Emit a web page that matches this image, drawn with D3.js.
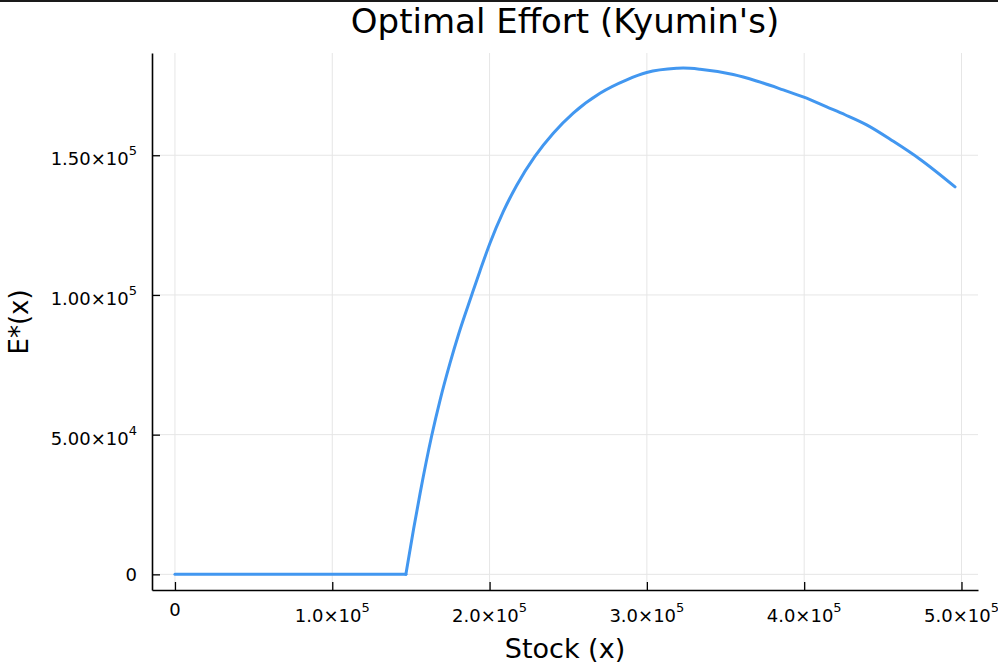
<!DOCTYPE html>
<html>
<head>
<meta charset="utf-8">
<script src="https://cdn.jsdelivr.net/npm/d3@7"></script>
<style>
  html, body { margin: 0; padding: 0; background: #fff; }
  svg { display: block; font-family: "DejaVu Sans", sans-serif; }
</style>
</head>
<body>
<svg id="chart" width="998" height="666"></svg>
<script>
// ---- data (stock, optimal effort) ----
const stock = [0, 146800, 151700, 155800, 163200, 168500, 174800, 180500, 188600, 193900,
               200300, 208700, 217200, 228800, 240500, 253200, 270200, 287200, 299900,
               318900, 323100, 333800, 354900, 369700, 386700, 399800, 414300, 426000,
               439700, 456700, 473600, 495900];
const effort = [0, 0, 16200, 28900, 49600, 62300, 75500, 86300, 99900, 108600,
                118600, 129800, 139200, 149600, 157900, 165100, 172200, 177000, 179600,
                181100, 181200, 180800, 178900, 176600, 173400, 170800, 167300, 164500,
                160900, 155000, 148600, 138700];
const xTicks = [0, 100000, 200000, 300000, 400000, 500000];
const xTickMant = ["0", "1.0", "2.0", "3.0", "4.0", "5.0"];
const xTickExp = ["", "5", "5", "5", "5", "5"];
const yTicks = [0, 50000, 100000, 150000];
const yTickMant = ["0", "5.00", "1.00", "1.50"];
const yTickExp = ["", "4", "5", "5"];
const titleText = "Optimal Effort (Kyumin's)";
const xLabel = "Stock (x)";
const yLabel = "E*(x)";

const svg = d3.select("#chart");
const W = 998, H = 666;
const m = { left: 152, right: 978, top: 53, bottom: 590 };

// top dark strip
svg.append("rect").attr("x", 0).attr("y", 0).attr("width", W).attr("height", 2).attr("fill", "#1a1a1a");

const x = d3.scaleLinear().domain([-14600, 510500]).range([m.left, m.right]);
const y = d3.scaleLinear().domain([-5600, 186600]).range([m.bottom, m.top]);

// grid
const grid = svg.append("g");
grid.selectAll(".vg").data(xTicks).enter().append("line")
  .attr("x1", d => x(d)).attr("x2", d => x(d))
  .attr("y1", m.top).attr("y2", m.bottom)
  .attr("stroke", "#e6e6e6").attr("stroke-width", 1);
grid.selectAll(".hg").data(yTicks).enter().append("line")
  .attr("x1", m.left).attr("x2", m.right)
  .attr("y1", d => y(d)).attr("y2", d => y(d))
  .attr("stroke", "#e6e6e6").attr("stroke-width", 1);

// axes
const xAxis = svg.append("g").attr("transform", `translate(0,${m.bottom})`)
  .call(d3.axisBottom(x).tickValues(xTicks).tickSize(-8).tickSizeOuter(0).tickFormat(""));
const yAxis = svg.append("g").attr("transform", `translate(${m.left},0)`)
  .call(d3.axisLeft(y).tickValues(yTicks).tickSize(-8).tickSizeOuter(0).tickFormat(""));
[xAxis, yAxis].forEach(a => {
  a.select(".domain").attr("stroke", "#000").attr("stroke-width", 1.6);
  a.selectAll(".tick line").attr("stroke", "#000").attr("stroke-width", 1.3);
});

// x tick labels
xTicks.forEach((v, i) => {
  const t = svg.append("text").attr("x", x(v))
    .attr("text-anchor", "middle").attr("font-size", 18).attr("fill", "#000");
  if (xTickExp[i]) {
    t.attr("y", 622);
    t.append("tspan").text(xTickMant[i] + "×10");
    t.append("tspan").attr("dy", -10).attr("font-size", 13).text(xTickExp[i]);
  } else {
    t.attr("y", 616).text(xTickMant[i]);
  }
});
// y tick labels
yTicks.forEach((v, i) => {
  const t = svg.append("text").attr("x", 137)
    .attr("text-anchor", "end").attr("font-size", 18).attr("fill", "#000");
  if (yTickExp[i]) {
    t.attr("y", y(v) + 10);
    t.append("tspan").text(yTickMant[i] + "×10");
    t.append("tspan").attr("dy", -10).attr("font-size", 13).text(yTickExp[i]);
  } else {
    t.attr("y", y(v) + 7).text(yTickMant[i]);
  }
});

// line: flat part straight, rising/falling part smooth
const pts = stock.map((s, i) => [s, effort[i]]);
const kink = 1;
const flatLine = d3.line().x(d => x(d[0])).y(d => y(d[1])).curve(d3.curveLinear);
const smoothLine = d3.line().x(d => x(d[0])).y(d => y(d[1])).curve(d3.curveMonotoneX);
const style = p => p.attr("fill", "none").attr("stroke", "#4297f0").attr("stroke-width", 3)
  .attr("stroke-linejoin", "round").attr("stroke-linecap", "round");
style(svg.append("path").datum(pts.slice(0, kink + 1)).attr("d", flatLine));
style(svg.append("path").datum(pts.slice(kink)).attr("d", smoothLine));

// title & labels
svg.append("text").attr("x", 565).attr("y", 33).attr("text-anchor", "middle")
  .attr("font-size", 34).attr("fill", "#000").text(titleText);
svg.append("text").attr("x", 565).attr("y", 658).attr("text-anchor", "middle")
  .attr("font-size", 27).attr("fill", "#000").text(xLabel);
svg.append("text").attr("transform", "translate(28,322) rotate(-90)").attr("text-anchor", "middle")
  .attr("font-size", 26).attr("fill", "#000").text(yLabel);
</script>
</body>
</html>
